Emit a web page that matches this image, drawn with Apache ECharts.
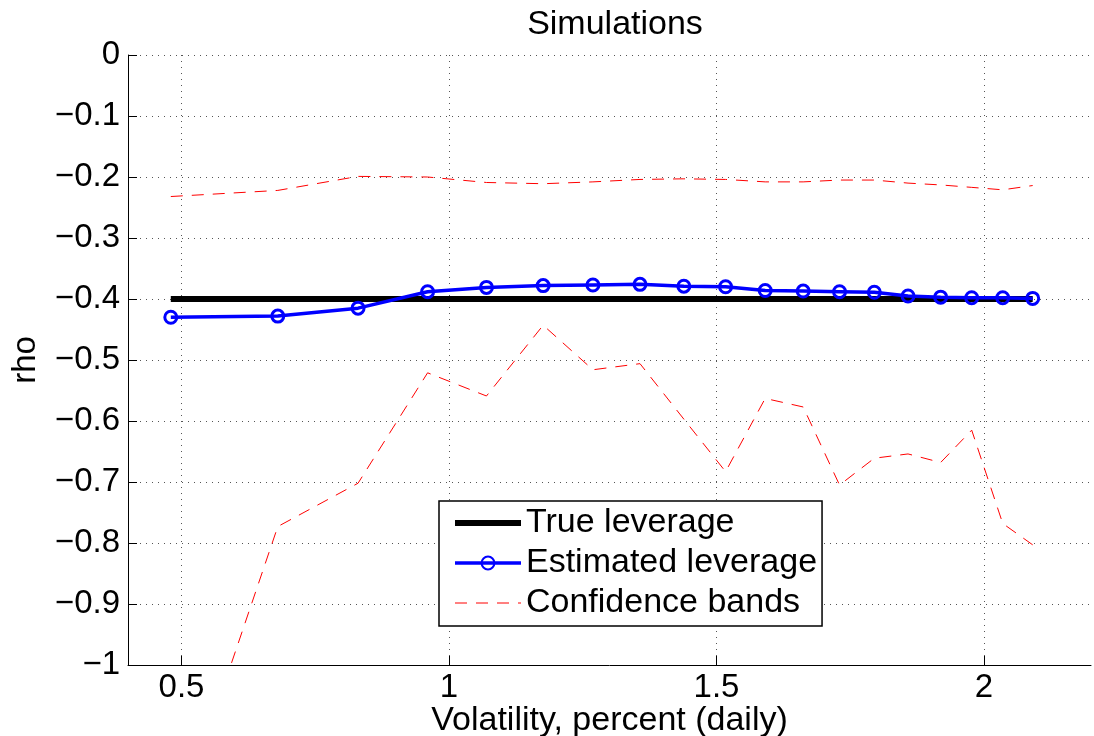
<!DOCTYPE html>
<html>
<head>
<meta charset="utf-8">
<script src="https://cdn.jsdelivr.net/npm/echarts@6/dist/echarts.min.js"></script>
<style>
  html, body { margin: 0; padding: 0; background: #fff; }
  #chart { width: 1094px; height: 736px; }
</style>
</head>
<body>
<div id="chart"></div>
<script>
// volatility (x) at each estimation point
const volatility = [0.48, 0.68, 0.83, 0.96, 1.07, 1.176, 1.269, 1.357, 1.439, 1.517,
  1.591, 1.662, 1.730, 1.795, 1.858, 1.919, 1.977, 2.035, 2.091]
const trueLeverage = [-0.4, -0.4, -0.4, -0.4, -0.4, -0.4, -0.4, -0.4, -0.4, -0.4,
  -0.4, -0.4, -0.4, -0.4, -0.4, -0.4, -0.4, -0.4, -0.4]
const estimated = [-0.430, -0.428, -0.415, -0.388, -0.381, -0.378, -0.377, -0.376, -0.379, -0.380,
  -0.386, -0.387, -0.388, -0.389, -0.395, -0.397, -0.398, -0.398, -0.399]
const upperBand = [-0.232, -0.222, -0.199, -0.200, -0.209, -0.211, -0.208, -0.204, -0.203, -0.204,
  -0.208, -0.208, -0.205, -0.205, -0.210, -0.213, -0.217, -0.221, -0.214]
const lowerBand = [-1.29, -0.773, -0.702, -0.521, -0.559, -0.443, -0.516, -0.506, -0.597, -0.683,
  -0.563, -0.577, -0.705, -0.661, -0.654, -0.668, -0.615, -0.768, -0.803]
const xTicks = [0.5, 1, 1.5, 2]

const pairs = ys => volatility.map((x, i) => [x, ys[i]])

const font = 'Liberation Sans, Arial, Helvetica, sans-serif'
const gridDots = { color: '#555', width: 1, type: [1, 5] }
const noMarker = { opacity: 0 }

const chart = echarts.init(document.getElementById('chart'), null, { renderer: 'canvas' })
chart.setOption({
  animation: false,
  backgroundColor: '#fff',
  textStyle: { fontFamily: font },
  title: {
    text: 'Simulations',
    left: 610,
    top: 3,
    textAlign: 'center',
    textStyle: { fontFamily: font, fontSize: 34, fontWeight: 'normal', color: '#000' }
  },
  grid: { left: 128, right: 3, top: 55, bottom: 71, outerBoundsMode: 'none' },
  legend: {
    orient: 'vertical',
    left: 439,
    top: 501,
    padding: [2, 5, 3, 13],
    itemWidth: 66,
    itemHeight: 16,
    itemGap: 0,
    borderColor: '#000',
    borderWidth: 1.5,
    backgroundColor: '#fff',
    lineStyle: { width: 'inherit' },
    textStyle: { fontFamily: font, fontSize: 34, lineHeight: 40, color: '#000' },
    data: [
      { name: 'True leverage', itemStyle: noMarker },
      { name: 'Estimated leverage' },
      { name: 'Confidence bands', itemStyle: noMarker }
    ]
  },
  xAxis: {
    type: 'value',
    min: 0.4,
    max: 2.2,
    name: 'Volatility, percent (daily)',
    nameLocation: 'middle',
    nameGap: 39,
    nameMoveOverlap: false,
    nameTextStyle: { fontFamily: font, fontSize: 34, color: '#000' },
    axisLine: { show: true, onZero: false, lineStyle: { color: '#000', width: 1 } },
    axisTick: { show: true, inside: true, length: 9, customValues: xTicks, lineStyle: { color: '#000' } },
    axisLabel: { customValues: xTicks, margin: 6, fontFamily: font, fontSize: 33, color: '#000' },
    splitLine: { show: true, lineStyle: gridDots }
  },
  yAxis: {
    type: 'value',
    min: -1,
    max: 0,
    interval: 0.1,
    name: 'rho',
    nameLocation: 'middle',
    nameGap: 86,
    nameMoveOverlap: false,
    nameTextStyle: { fontFamily: font, fontSize: 33, color: '#000' },
    axisLine: { show: true, onZero: false, lineStyle: { color: '#000', width: 1 } },
    axisTick: { show: true, inside: true, length: 9, lineStyle: { color: '#000' } },
    axisLabel: {
      margin: 8, fontFamily: font, fontSize: 33, color: '#000',
      formatter: v => (v < 0 ? '\u2212' : '') + String(+Math.abs(v).toFixed(1))
    },
    splitLine: { show: true, lineStyle: gridDots }
  },
  series: [
    {
      name: 'True leverage',
      type: 'line',
      data: pairs(trueLeverage),
      symbol: 'none',
      lineStyle: { color: '#000', width: 6 },
      itemStyle: { color: '#000' },
      z: 3
    },
    {
      name: 'Estimated leverage',
      type: 'line',
      data: pairs(estimated),
      symbol: 'circle',
      symbolSize: 12,
      showAllSymbol: true,
      lineStyle: { color: '#0000ff', width: 3.5 },
      itemStyle: { color: 'rgba(0,0,0,0)', borderColor: '#0000ff', borderWidth: 3 },
      z: 4
    },
    {
      name: 'Confidence bands',
      type: 'line',
      data: pairs(upperBand),
      symbol: 'none',
      lineStyle: { color: '#ff0000', width: 1, type: [12, 9] },
      itemStyle: { color: '#ff0000' },
      z: 2
    },
    {
      name: 'Confidence bands',
      type: 'line',
      data: pairs(lowerBand),
      symbol: 'none',
      clip: true,
      lineStyle: { color: '#ff0000', width: 1, type: [12, 9] },
      itemStyle: { color: '#ff0000' },
      z: 2
    }
  ]
})
</script>
</body>
</html>
